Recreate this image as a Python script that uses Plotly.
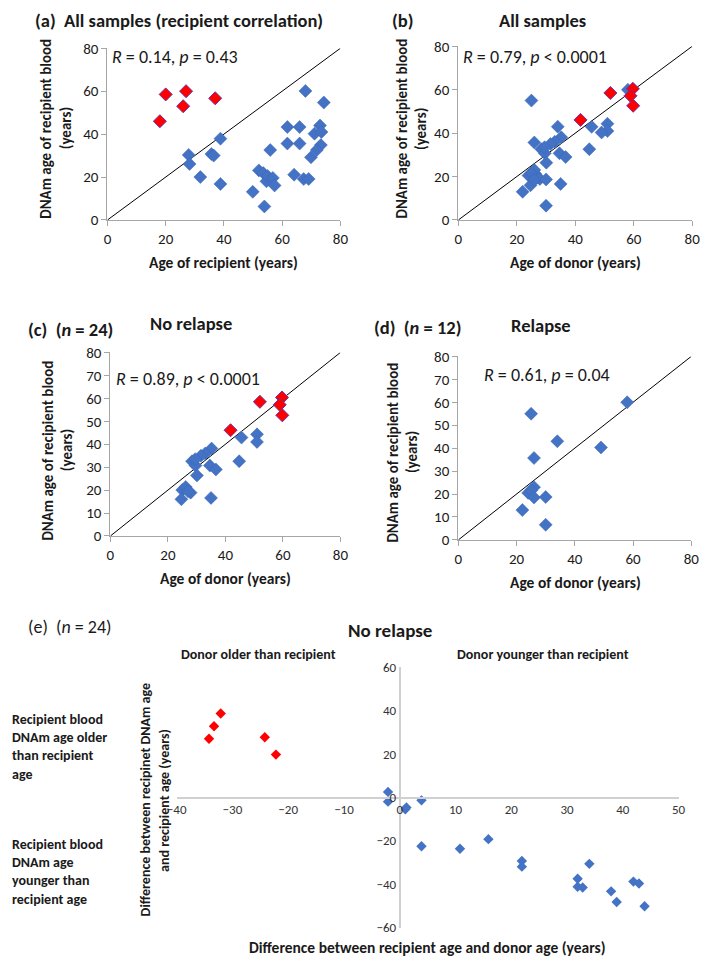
import plotly.graph_objects as go

# ---------------- DATA ----------------
# Panel (a): age of recipient vs DNAm age of recipient blood
a_blue_recipient_age = [68, 74.3, 61.8, 66, 73, 71.1, 73.5, 61.8, 66, 73.3, 71.9, 69.9, 55.9, 38.8,
                        27.9, 35.7, 36.5, 28.2, 31.9, 38.8, 52, 53.5, 54.6, 55, 56.8, 57.4, 49.9,
                        53.9, 64.1, 67.4, 69.1]
a_blue_dnam_age = [60.1, 54.7, 43.3, 43.3, 44, 40.2, 41, 35.6, 35.6, 34.9, 32.6, 29.2, 32.6, 37.9,
                   30.3, 30.7, 30, 26.1, 20, 16.8, 23.1, 21.9, 18, 20.5, 19.6, 16.1, 13.1,
                   6.3, 21.1, 19.1, 19.1]
a_red_recipient_age = [20, 27, 26, 37, 18]
a_red_dnam_age = [58.5, 60, 53, 56.7, 46]

# Panel (c): no relapse, age of donor vs DNAm age
c_blue_donor_age = [45.6, 51, 51, 44.8, 35.2, 33, 31.5, 28.4, 29.6, 34.6, 36.7, 30.1, 25, 26.2,
                    27.9, 24.7, 35, 29.5, 27]
c_blue_dnam_age = [42.9, 44.3, 41, 32.6, 38.1, 36, 35, 32.6, 30.7, 30.7, 29, 26.4, 20, 21.4,
                   18.9, 16, 16.6, 33.5, 19.5]
c_red_donor_age = [52, 59.7, 58.9, 59.8, 41.8]
c_red_dnam_age = [58.5, 60.4, 57.2, 52.6, 46.1]

# Panel (d): relapse, age of donor vs DNAm age
d_donor_age = [58, 25, 34, 49, 26, 26, 24, 25, 26, 30, 22, 30]
d_dnam_age = [60, 55, 43, 40.3, 35.7, 23, 20.5, 21.5, 18.5, 18.7, 13, 6.6]

# Panel (b): all samples = no relapse + relapse
b_blue_donor_age = c_blue_donor_age + d_donor_age
b_blue_dnam_age = c_blue_dnam_age + d_dnam_age
b_red_donor_age = c_red_donor_age
b_red_dnam_age = c_red_dnam_age

# Panel (e): no relapse, difference plot
e_blue_age_diff = [-2.1, -2.1, 1.0, 1.2, 3.9, 3.9, 10.8, 15.9, 21.9, 21.9, 34.0, 31.9, 31.9,
                   32.8, 37.9, 38.9, 41.9, 42.9, 43.9]
e_blue_dnam_diff = [2.6, -1.9, -5.4, -4.6, -1.3, -22.5, -23.6, -19.2, -29.3, -31.9, -30.6, -37.5,
                    -41.2, -41.5, -43.3, -48.2, -38.8, -39.7, -50.2]
e_red_age_diff = [-32.1, -33.3, -34.2, -24.2, -22.2]
e_red_dnam_diff = [38.8, 32.9, 27.1, 27.8, 19.8]

identity_line = [0, 80]
ticks_20 = [0, 20, 40, 60, 80]
ticks_10 = [0, 10, 20, 30, 40, 50, 60, 70, 80]
e_xticks = [-40, -30, -20, -10, 0, 10, 20, 30, 40, 50]
e_yticks = [-60, -40, -20, 0, 20, 40, 60]

# ---------------- STYLE ----------------
W, H = 709, 966
FONT = "Calibri, Carlito, Lato, sans-serif"
BLUE = "#4472C4"
RED = "#FF0000"
AX = "#a6a6a6"
TXT = "#1a1a1a"


def fx(px):
    return px / W


def fy(py):
    return 1 - py / H


fig = go.Figure()

blue_marker = dict(symbol="diamond", size=10, color=BLUE, line=dict(color="#3b66b5", width=0.5))
red_marker = dict(symbol="diamond", size=10, color=RED, line=dict(color="#7030A0", width=1))


def add_panel(i, bx, by, rx=None, ry=None):
    xa = "x" if i == 1 else f"x{i}"
    ya = "y" if i == 1 else f"y{i}"
    fig.add_trace(go.Scatter(x=identity_line, y=identity_line, mode="lines",
                             line=dict(color="black", width=1), xaxis=xa, yaxis=ya,
                             showlegend=False, hoverinfo="skip"))
    fig.add_trace(go.Scatter(x=bx, y=by, mode="markers", marker=blue_marker,
                             xaxis=xa, yaxis=ya, showlegend=False))
    if rx is not None:
        fig.add_trace(go.Scatter(x=rx, y=ry, mode="markers", marker=red_marker,
                                 xaxis=xa, yaxis=ya, showlegend=False))


add_panel(1, a_blue_recipient_age, a_blue_dnam_age, a_red_recipient_age, a_red_dnam_age)
add_panel(2, b_blue_donor_age, b_blue_dnam_age, b_red_donor_age, b_red_dnam_age)
add_panel(3, c_blue_donor_age, c_blue_dnam_age, c_red_donor_age, c_red_dnam_age)
add_panel(4, d_donor_age, d_dnam_age)

fig.add_trace(go.Scatter(x=e_blue_age_diff, y=e_blue_dnam_diff, mode="markers",
                         marker=dict(symbol="diamond", size=8, color=BLUE),
                         xaxis="x5", yaxis="y5", showlegend=False))
fig.add_trace(go.Scatter(x=e_red_age_diff, y=e_red_dnam_diff, mode="markers",
                         marker=dict(symbol="diamond", size=8, color=RED),
                         xaxis="x5", yaxis="y5", showlegend=False))

axis_common = dict(showgrid=False, zeroline=False, showline=True, linecolor=AX, linewidth=1,
                   ticks="outside", ticklen=5, tickcolor=AX,
                   tickfont=dict(family=FONT, size=15, color=TXT))

layout = dict(
    width=W, height=H, margin=dict(l=0, r=0, t=0, b=0),
    paper_bgcolor="white", plot_bgcolor="white", showlegend=False,
    font=dict(family=FONT, color=TXT),
    xaxis=dict(domain=[fx(100), fx(339)], range=[0, 80], tickvals=ticks_20, anchor="y", **axis_common),
    yaxis=dict(domain=[fy(215), fy(40)], range=[0, 80], tickvals=ticks_20, anchor="x", **axis_common),
    xaxis2=dict(domain=[fx(460), fx(700)], range=[0, 80], tickvals=ticks_20, anchor="y2", **axis_common),
    yaxis2=dict(domain=[fy(215), fy(38)], range=[0, 80], tickvals=ticks_20, anchor="x2", **axis_common),
    xaxis3=dict(domain=[fx(103), fx(339)], range=[0, 80], tickvals=ticks_20, anchor="y3", **axis_common),
    yaxis3=dict(domain=[fy(537), fy(350)], range=[0, 80], tickvals=ticks_10, anchor="x3", **axis_common),
    xaxis4=dict(domain=[fx(460), fx(699)], range=[0, 80], tickvals=ticks_20, anchor="y4", **axis_common),
    yaxis4=dict(domain=[fy(541), fy(354)], range=[0, 80], tickvals=ticks_10, anchor="x4", **axis_common),
)

# panel (e) axes crossing at the origin
e_xdom = [fx(171), fx(686)]
e_ydom = [fy(936), fy(671)]
e_xrange = [-40, 50]
e_yrange = [-60, 60]
x0_paper = e_xdom[0] + (0 - e_xrange[0]) / (e_xrange[1] - e_xrange[0]) * (e_xdom[1] - e_xdom[0])
y0_paper = e_ydom[0] + (0 - e_yrange[0]) / (e_yrange[1] - e_yrange[0]) * (e_ydom[1] - e_ydom[0])
e_axis = dict(showgrid=False, zeroline=False, showline=True, linecolor="#d0d0d0", linewidth=2,
              ticks="", tickfont=dict(family=FONT, size=13, color="#333333"), anchor="free")
layout["xaxis5"] = dict(domain=e_xdom, range=e_xrange, tickvals=e_xticks, position=y0_paper, **e_axis)
layout["yaxis5"] = dict(domain=e_ydom, range=e_yrange, tickvals=e_yticks, position=x0_paper, **e_axis)

fig.update_layout(**layout)


def ann(text, x, y, size, bold=False, xanchor="center", angle=0, align="center", color=TXT):
    if bold:
        text = f"<b>{text}</b>"
    fig.add_annotation(text=text, x=fx(x), y=fy(y), xref="paper", yref="paper",
                       showarrow=False, xanchor=xanchor, yanchor="middle", textangle=angle,
                       align=align, font=dict(family=FONT, size=size, color=color))


# titles
ann("(a)  All samples (recipient correlation)", 24, 12, 18.5, bold=True, xanchor="left")
ann("(b)", 390, 12, 18.5, bold=True, xanchor="left")
ann("All samples", 546, 12, 18.5, bold=True)
ann("(c)  (<i>n</i> = 24)", 16, 327, 18.5, bold=True, xanchor="left")
ann("No relapse", 186, 320, 18.5, bold=True)
ann("(d)  (<i>n</i> = 12)", 371, 325, 18.5, bold=True, xanchor="left")
ann("Relapse", 545, 323, 18.5, bold=True)

# statistics text
ann("<i>R</i> = 0.14, <i>p</i> = 0.43", 103, 49, 18, xanchor="left")
ann("<i>R</i> = 0.79, <i>p</i> < 0.0001", 463, 49, 18, xanchor="left")
ann("<i>R</i> = 0.89, <i>p</i> < 0.0001", 107, 377, 18, xanchor="left")
ann("<i>R</i> = 0.61, <i>p</i> = 0.04", 484, 373, 18, xanchor="left")

# axis titles
ann("Age of recipient (years)", 219, 258, 15.5, bold=True)
ann("Age of donor (years)", 580, 258, 15.5, bold=True)
ann("Age of donor (years)", 221, 580, 15.5, bold=True)
ann("Age of donor (years)", 580, 584, 15.5, bold=True)
for xl, xl2, yc in [(37, 57, 122), (402, 421, 122), (39, 58, 450), (393, 412, 452)]:
    ann("DNAm age of recipient blood", xl, yc, 15, bold=True, angle=-90)
    ann("(years)", xl2, yc, 15, bold=True, angle=-90)

# panel (e) texts
ann("(e)  (<i>n</i> = 24)", 16, 630, 18, xanchor="left")
ann("No relapse", 390, 633, 19, bold=True)
ann("Donor older than recipient", 255, 658, 14, bold=True)
ann("Donor younger than recipient", 547, 658, 14, bold=True)
ann("Recipient blood<br>DNAm age older<br>than recipient<br>age", 0, 752, 14, bold=True,
    xanchor="left", align="left")
ann("Recipient blood<br>DNAm age<br>younger than<br>recipient age", 0, 879, 14, bold=True,
    xanchor="left", align="left")
ann("Difference between recipinet DNAm age", 140, 806, 14, bold=True, angle=-90)
ann("and recipient age (years)", 159, 806, 14, bold=True, angle=-90)
ann("Difference between recipient age and donor age (years)", 428, 956, 15.5, bold=True)

fig.write_html("out.html", config={"displayModeBar": False},
               post_script="document.body.style.margin='0';")
